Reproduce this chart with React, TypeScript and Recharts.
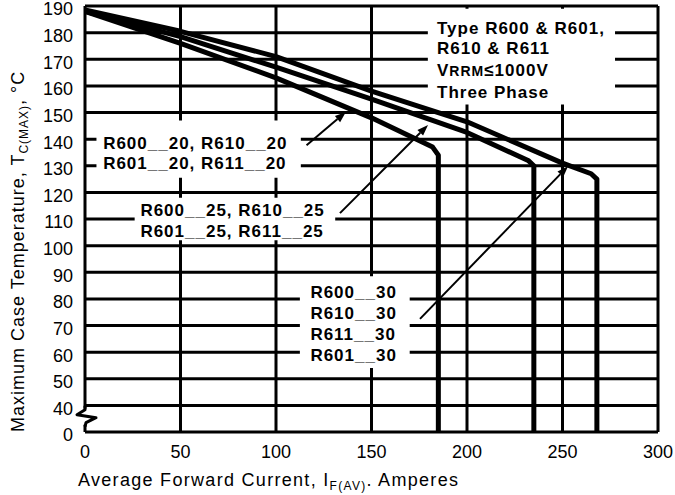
import {
  LineChart,
  Line,
  XAxis,
  YAxis,
  CartesianGrid,
  ReferenceArea,
  ReferenceLine,
  ReferenceDot,
} from 'recharts'

// current axis, amperes
const X_TICKS = [0, 50, 100, 150, 200, 250, 300]
// temperature axis, deg C (broken between 0 and 40)
const Y_TICKS = [0, 40, 50, 60, 70, 80, 90, 100, 110, 120, 130, 140, 150, 160, 170, 180, 190]

// R6xx__20 curve
const CURRENT_20 = [0, 50, 100, 150, 182, 185, 185]
const TEMP_20 = [188, 176, 163, 148, 137, 134, 0]
// R6xx__25 curve
const CURRENT_25 = [0, 50, 100, 150, 200, 232, 235, 235]
const TEMP_25 = [188, 178.5, 167, 155, 142.5, 132, 130, 0]
// R6xx__30 curve
const CURRENT_30 = [0, 50, 100, 150, 200, 250, 265, 268, 268]
const TEMP_30 = [188.5, 180.5, 171, 158, 146.5, 131, 127, 125, 0]

const LABEL_20 = ['R600__20, R610__20', 'R601__20, R611__20']
const LABEL_25 = ['R600__25, R610__25', 'R601__25, R611__25']
const LABEL_30 = ['R600__30', 'R610__30', 'R611__30', 'R601__30']

// the 0 tick sits one step below 40 because of the axis break
const AXIS_FLOOR = 30
const toAxis = (t: number) => (t < 40 ? AXIS_FLOOR : t)

const rows = (xs: number[], ts: number[]) => xs.map((x, i) => ({ current: x, temp: toAxis(ts[i]) }))

const series = [
  { key: 's20', data: rows(CURRENT_20, TEMP_20) },
  { key: 's25', data: rows(CURRENT_25, TEMP_25) },
  { key: 's30', data: rows(CURRENT_30, TEMP_30) },
]

// annotation placement (data units)
const boxes = [
  { x1: 6, x2: 113, y1: 125.5, y2: 147 },
  { x1: 26, x2: 131, y1: 102, y2: 118 },
  { x1: 112.5, x2: 170, y1: 54, y2: 88.5 },
  { x1: 179.5, x2: 277.5, y1: 153, y2: 189 },
]
const textBlocks = [
  { x: 9.5, temps: [138.5, 131], lines: LABEL_20 },
  { x: 29, temps: [113.3, 105.6], lines: LABEL_25 },
  { x: 118, temps: [82.8, 74.9, 67, 59.1], lines: LABEL_30 },
]
const arrows = [
  [{ x: 116, y: 137.7 }, { x: 136.6, y: 150.2 }],
  [{ x: 133.5, y: 112.2 }, { x: 179.6, y: 145.3 }],
  [{ x: 175.4, y: 72.5 }, { x: 252.9, y: 129.8 }],
]

const FONT = '"Liberation Sans", Arial, sans-serif'

function Arrow(props: any) {
  const { x1, y1, x2, y2 } = props
  const a = Math.atan2(y2 - y1, x2 - x1)
  const len = 11
  const w = 4
  const bx = x2 - len * Math.cos(a)
  const by = y2 - len * Math.sin(a)
  const px = -Math.sin(a) * w
  const py = Math.cos(a) * w
  return (
    <g>
      <line x1={x1} y1={y1} x2={bx} y2={by} stroke="#000" strokeWidth={2} />
      <polygon points={`${x2},${y2} ${bx + px},${by + py} ${bx - px},${by - py}`} fill="#000" />
    </g>
  )
}

function AxisBreak(props: any) {
  const { cx, cy } = props
  return (
    <g>
      <rect x={cx - 3} y={cy - 10} width={6} height={16} fill="#fff" />
      <polyline
        points={`${cx},${cy - 13} ${cx},${cy - 9} ${cx - 8},${cy - 4} ${cx + 11},${cy - 1} ${cx + 1},${cy + 4} ${cx},${cy + 8}`}
        fill="none"
        stroke="#000"
        strokeWidth={3}
        strokeLinejoin="round"
      />
    </g>
  )
}

function YTick({ x, y, payload }: any) {
  const v = payload.value
  return (
    <text x={x} y={y + 3} dy="0.36em" textAnchor="end" fontSize={18} fill="#000" fontFamily={FONT}>
      {v === AXIS_FLOOR ? '0' : String(v)}
    </text>
  )
}

function YTitle({ viewBox }: any) {
  const { x, y, height } = viewBox
  return (
    <text
      transform={`translate(${x + 24},${y + height}) rotate(-90)`}
      fontSize={18}
      letterSpacing={1}
      fill="#000"
      fontFamily={FONT}
    >
      Maximum Case Temperature, T
      <tspan fontSize={12} dy={4}>C(MAX)</tspan>
      <tspan dy={-4}>, °C</tspan>
    </text>
  )
}

function XTitle({ viewBox }: any) {
  const { x, y } = viewBox
  return (
    <text x={x - 7} y={y + 54} fontSize={18} letterSpacing={1.3} fill="#000" fontFamily={FONT}>
      Average Forward Current, I
      <tspan fontSize={12} dy={4}>F(AV)</tspan>
      <tspan dy={-4}>. Amperes</tspan>
    </text>
  )
}

const labelText = (line: string) => (p: any) => (
  <text
    x={p.cx}
    y={p.cy}
    dy="0.36em"
    fontSize={17}
    fontWeight="bold"
    letterSpacing={1}
    fill="#000"
    fontFamily={FONT}
  >
    {line}
  </text>
)

const typeBlock = (p: any) => (
  <text x={p.cx} y={p.cy} fontSize={17} fontWeight="bold" letterSpacing={1} fill="#000" fontFamily={FONT}>
    <tspan x={p.cx} dy="0.36em">Type R600 &amp; R601,</tspan>
    <tspan x={p.cx} dy={20}>R610 &amp; R611</tspan>
    <tspan x={p.cx} dy={22}>V<tspan fontSize={14}>RRM</tspan>≤1000V</tspan>
    <tspan x={p.cx} dy={22}>Three Phase</tspan>
  </text>
)

export default function App() {
  return (
    <div style={{ position: 'absolute', left: 0, top: 0, width: 675, height: 495, background: '#fff', fontFamily: FONT }}>
      <LineChart width={675} height={495} margin={{ top: 6, right: 17, bottom: 0, left: 0 }}>
        <CartesianGrid stroke="#000" strokeWidth={3} />
        <XAxis
          type="number"
          dataKey="current"
          domain={[0, 300]}
          ticks={X_TICKS}
          interval={0}
          height={63}
          axisLine={false}
          tickLine={false}
          tickSize={6}
          tickMargin={7}
          tick={{ fontSize: 18, fill: '#000' }}
          label={{ content: XTitle }}
        />
        <YAxis
          type="number"
          domain={[AXIS_FLOOR, 190]}
          ticks={Y_TICKS.map(toAxis)}
          interval={0}
          width={85}
          axisLine={false}
          tickLine={false}
          tickSize={6}
          tickMargin={6}
          tick={YTick}
          label={{ content: YTitle }}
        />
        {boxes.map((b, i) => (
          <ReferenceArea key={`box${i}`} {...b} fill="#fff" fillOpacity={1} stroke="none" />
        ))}
        <ReferenceDot x={0} y={35} r={1} shape={AxisBreak} />
        {series.map((s) => (
          <Line
            key={s.key}
            data={s.data}
            dataKey="temp"
            type="linear"
            stroke="#000"
            strokeWidth={5}
            strokeLinejoin="round"
            dot={false}
            activeDot={false}
            isAnimationActive={false}
          />
        ))}
        {arrows.map((seg, i) => (
          <ReferenceLine key={`arr${i}`} segment={seg} shape={Arrow} />
        ))}
        {textBlocks.map((blk, i) =>
          blk.lines.map((line, j) => (
            <ReferenceDot key={`t${i}-${j}`} x={blk.x} y={blk.temps[j]} r={1} shape={labelText(line)} />
          ))
        )}
        <ReferenceDot x={184.3} y={181.7} r={1} shape={typeBlock} />
      </LineChart>
    </div>
  )
}
